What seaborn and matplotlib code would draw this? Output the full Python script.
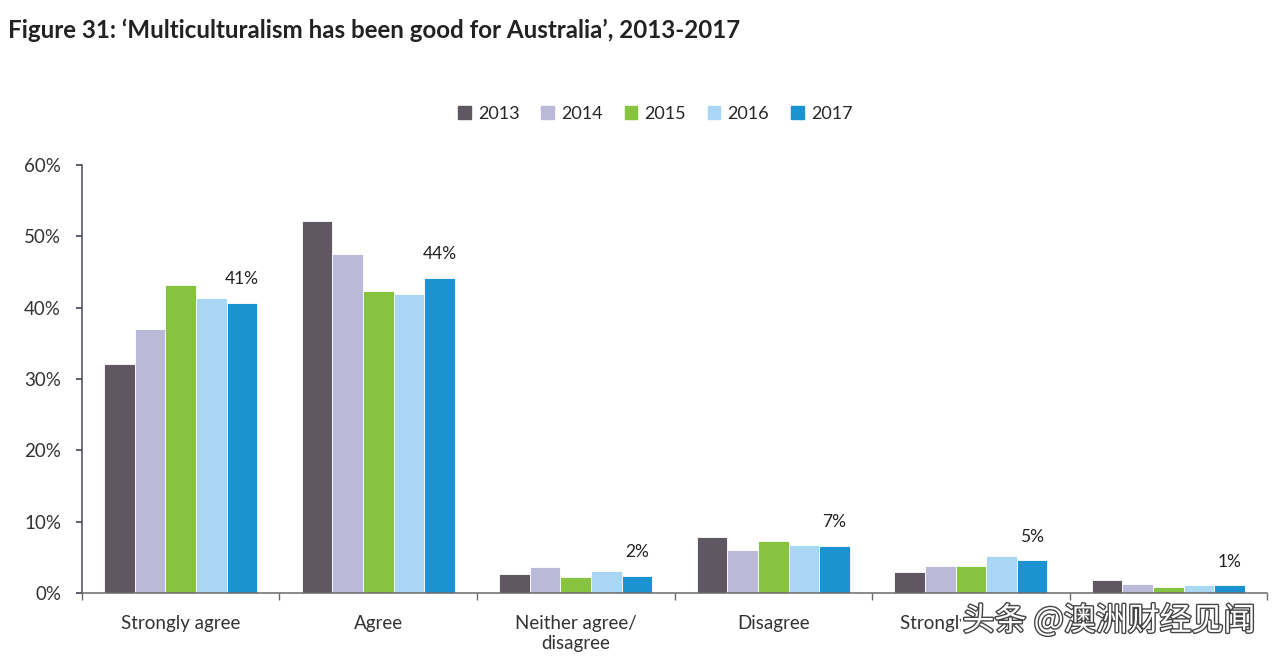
import matplotlib
matplotlib.use("Agg")
import matplotlib.pyplot as plt
import matplotlib.patheffects as pe
from matplotlib.ticker import FixedLocator, FuncFormatter
import seaborn as sns
import pandas as pd

# Data (percent)
categories = ["Strongly agree", "Agree", "Neither agree/\ndisagree",
              "Disagree", "Strongly disagree", "Don't know"]
years = ["2013", "2014", "2015", "2016", "2017"]
v2013 = [32.1, 52.2, 2.7, 7.9, 2.9, 1.8]
v2014 = [37.0, 47.5, 3.6, 6.0, 3.8, 1.2]
v2015 = [43.2, 42.4, 2.2, 7.3, 3.8, 0.8]
v2016 = [41.4, 41.9, 3.1, 6.7, 5.2, 1.1]
v2017 = [40.7, 44.2, 2.4, 6.6, 4.6, 1.1]
colors = ["#5f5862", "#bab9d8", "#86c440", "#a9d6f3", "#1a93d0"]

series = [v2013, v2014, v2015, v2016, v2017]
rows = []
for year, vals in zip(years, series):
    for cat, v in zip(categories, vals):
        rows.append({"category": cat, "year": year, "value": v})
df = pd.DataFrame(rows)

sns.set_theme(style="white")
plt.rcParams['font.family'] = ['Lato', 'DejaVu Sans']

fig = plt.figure(figsize=(12.8, 6.62), dpi=100)
ax = fig.add_axes([0.064, 0.1042, 0.926, 0.6466])

sns.barplot(data=df, x="category", y="value", hue="year", order=categories,
            hue_order=years, palette=colors, width=0.775, saturation=1,
            edgecolor="white", linewidth=0.6, legend=False, ax=ax)

ax.set_xlim(-0.5, 5.5)
ax.set_ylim(0, 60)
ax.set_yticks(range(0, 61, 10))
ax.yaxis.set_major_formatter(FuncFormatter(lambda v, p: f"{v:.0f}%"))
ax.set_xlabel("")
ax.set_ylabel("")

for s in ["top", "right"]:
    ax.spines[s].set_visible(False)
ax.spines["left"].set_color("#4a4a5a")
ax.spines["left"].set_linewidth(1.1)
ax.spines["bottom"].set_color("#6a6a6a")
ax.spines["bottom"].set_linewidth(1.1)

ax.tick_params(axis="y", which="major", left=True, length=4, color="#4a4a5a",
               labelsize=13.5, labelcolor="#333333", pad=11)
ax.tick_params(axis="x", which="major", bottom=False, labelsize=13.5,
               labelcolor="#333333", pad=10)
ax.xaxis.set_minor_locator(FixedLocator([i + 0.5 for i in range(-1, 6)]))
ax.tick_params(axis="x", which="minor", bottom=True, length=5,
               color="#6a6a6a", direction="out")

# 2017 value labels above each group's last bar
for patch, v in zip(ax.containers[4].patches, v2017):
    ax.annotate(f"{round(v)}%", (patch.get_x() + patch.get_width() / 2, v),
                xytext=(0, 17), textcoords="offset points",
                ha="center", va="center", fontsize=12.5, color="#222222")

handles = [plt.Rectangle((0, 0), 1, 1, color=c) for c in colors]
fig.legend(handles, years, loc="center", bbox_to_anchor=(0.512, 0.828),
           ncol=5, frameon=False, fontsize=13, handlelength=0.7,
           handleheight=0.7, handletextpad=0.4, columnspacing=1.2)

fig.text(0.006, 0.955, "Figure 31: \u2018Multiculturalism has been good for Australia\u2019, 2013-2017",
         fontsize=17.4, fontweight="bold", color="#222222", ha="left", va="center")

# watermark from the source image
fig.text(0.752, 0.062, "头条 @澳洲财经见闻", fontsize=23, color="white",
         family=["Noto Sans CJK SC", "DejaVu Sans"], ha="left", va="center",
         path_effects=[pe.withStroke(linewidth=2, foreground="#444444")],
         bbox=dict(facecolor="white", edgecolor="none", pad=1))

fig.savefig("out.png", dpi=100, facecolor="white")
